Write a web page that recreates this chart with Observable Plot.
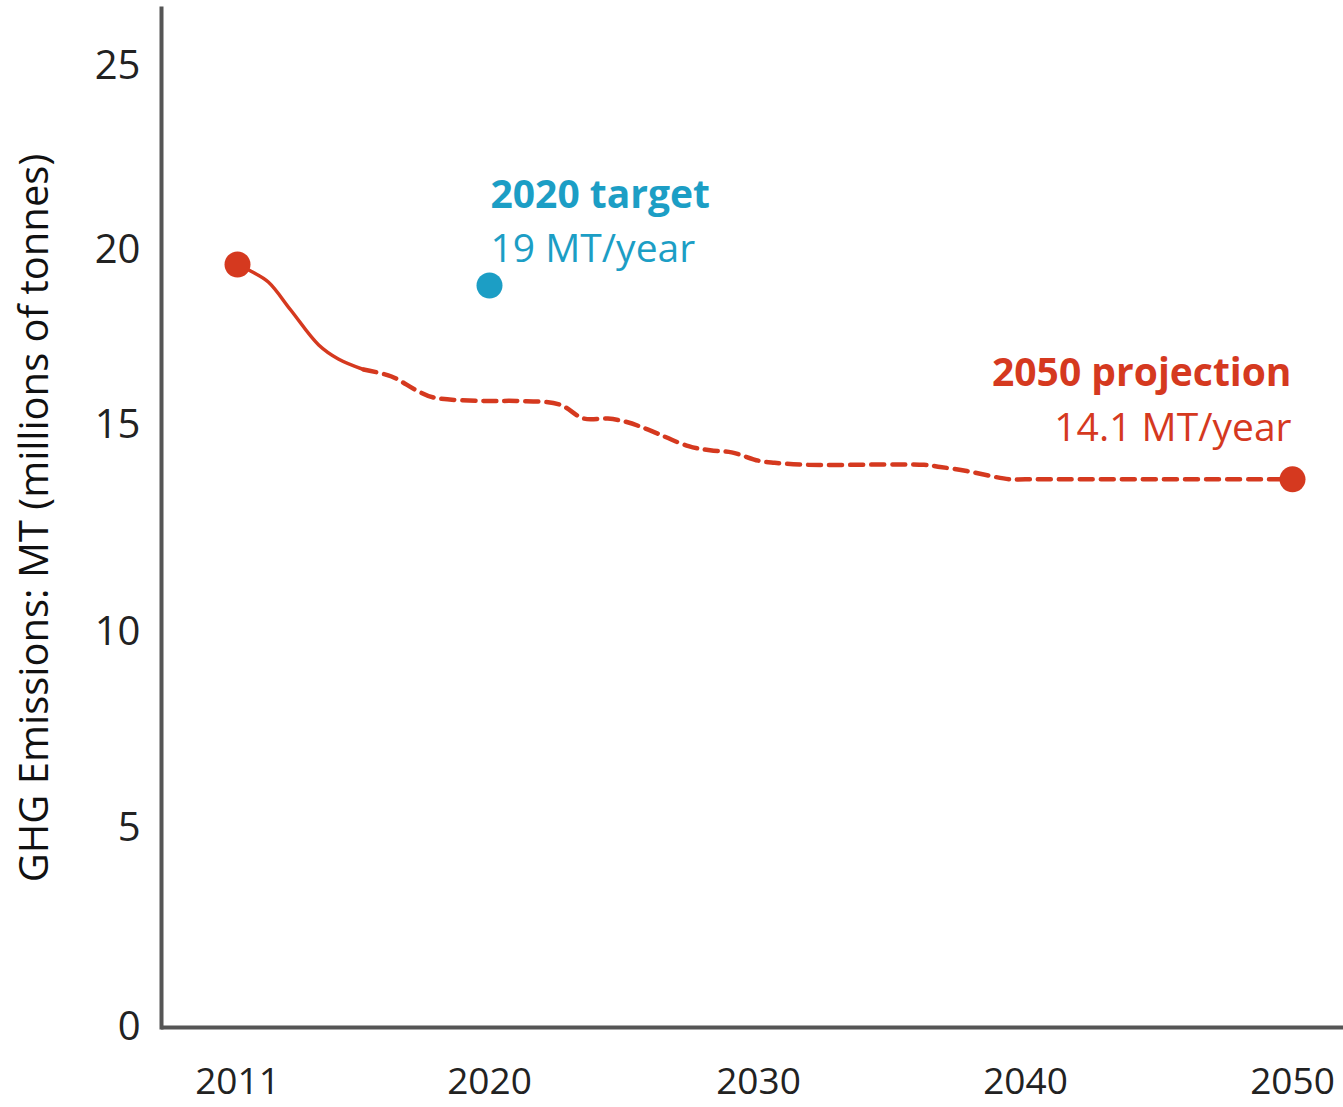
<!DOCTYPE html>
<html>
<head>
<meta charset="utf-8">
<script src="https://cdn.jsdelivr.net/npm/d3@7"></script>
<script src="https://cdn.jsdelivr.net/npm/@observablehq/plot@0.6"></script>
<style>
  html, body { margin: 0; padding: 0; background: #fff; }
  #chart svg { display: block; }
</style>
</head>
<body>
<div id="chart"></div>
<script>
// ---- data ----
const solidYears  = [2011, 2011.5, 2012.1, 2012.9, 2013.9, 2014.6, 2015.5];
const solidValues = [19.6, 19.4, 19.1, 18.3, 17.3, 16.9, 16.6];

const dashYears  = [2015.5, 2016.5, 2017.4, 2018, 2019.8, 2021, 2022.6, 2023.5, 2024.4, 2025.1, 2025.9, 2027.4, 2028.2, 2029, 2030, 2030.6, 2031.8, 2036.2, 2036.8, 2037.8, 2039.4, 2040, 2050];
const dashValues = [16.6, 16.4, 16.0, 15.8, 15.7, 15.7, 15.6, 15.2, 15.2, 15.1, 14.9, 14.5, 14.4, 14.35, 14.15, 14.1, 14.05, 14.05, 14.0, 13.9, 13.7, 13.7, 13.7];

const endYears  = [2011, 2050];
const endValues = [19.6, 13.7];

const targetYear  = 2020;
const targetValue = 19.0;
const targetTitle = "2020 target";
const targetText  = "19 MT/year";

const projYear  = 2050;
const projValue = 13.7;
const projTitle = "2050 projection";
const projText  = "14.1 MT/year";

const xTicks = [2011, 2020, 2030, 2040, 2050];
const yTicks = [0, 5, 10, 15, 20, 25];
const yLabel = "GHG Emissions: MT (millions of tonnes)";

// ---- styles ----
const RED = "#d5391f";
const BLUE = "#1c9ec5";
const AXIS = "#555555";
const FONT = "Open Sans";

const solid = solidYears.map((x, i) => ({x, y: solidValues[i]}));
const dashed = dashYears.map((x, i) => ({x, y: dashValues[i]}));
const ends = endYears.map((x, i) => ({x, y: endValues[i]}));
const target = [{x: targetYear, y: targetValue}];
const proj = [{x: projYear, y: projValue}];

const chart = Plot.plot({
  width: 1343,
  height: 1107,
  marginLeft: 161,
  marginRight: 0,
  marginTop: 8,
  marginBottom: 80,
  style: {fontFamily: FONT, background: "#fff"},
  x: {type: "linear", domain: xTicks, range: [237, 489, 758, 1025, 1292], axis: null},
  y: {type: "linear", domain: yTicks, range: [1027, 828, 632, 425, 250, 66], axis: null},
  marks: [
    Plot.frame({anchor: "left", stroke: AXIS, strokeWidth: 4}),
    Plot.ruleY([0], {stroke: AXIS, strokeWidth: 4}),
    Plot.axisY({ticks: yTicks, tickSize: 0, tickPadding: 21, fontSize: 40, label: null, fill: "#222", fontFamily: FONT}),
    Plot.axisX({ticks: xTicks, tickSize: 0, tickPadding: 40, fontSize: 37, label: null, tickFormat: "d", fill: "#222", fontFamily: FONT}),
    Plot.text([yLabel], {frameAnchor: "left", textAnchor: "middle", rotate: -90, dx: -126, fontSize: 40, fill: "#111", fontFamily: FONT}),
    Plot.line(solid, {x: "x", y: "y", stroke: RED, strokeWidth: 3.5, curve: "catmull-rom"}),
    Plot.line(dashed, {x: "x", y: "y", stroke: RED, strokeWidth: 4.5, strokeDasharray: "13,8", curve: "catmull-rom"}),
    Plot.dot(ends, {x: "x", y: "y", r: 13, fill: RED}),
    Plot.dot(target, {x: "x", y: "y", r: 13, fill: BLUE}),
    Plot.text(target, {x: "x", y: "y", text: () => targetTitle, textAnchor: "start", dx: 1, dy: -90, fontSize: 39, fontWeight: "bold", fill: BLUE}),
    Plot.text(target, {x: "x", y: "y", text: () => targetText, textAnchor: "start", dx: 1, dy: -36, fontSize: 39, fill: BLUE}),
    Plot.text(proj, {x: "x", y: "y", text: () => projTitle, textAnchor: "end", dx: -1, dy: -106, fontSize: 39, fontWeight: "bold", fill: RED}),
    Plot.text(proj, {x: "x", y: "y", text: () => projText, textAnchor: "end", dx: -1, dy: -51, fontSize: 39, fill: RED})
  ]
});
document.getElementById("chart").appendChild(chart);
</script>
</body>
</html>
